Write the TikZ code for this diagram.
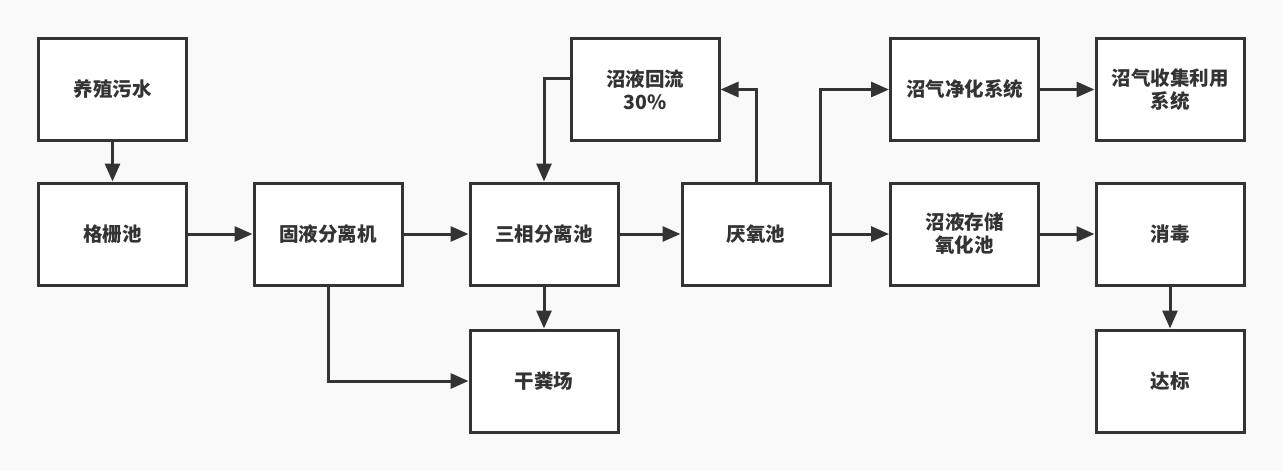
\documentclass[tikz,border=0pt]{standalone}
\usepackage{fontspec}
\setmainfont{Noto Sans CJK SC}
\usetikzlibrary{arrows.meta,positioning}
\definecolor{ink}{HTML}{333333}
\definecolor{paper}{HTML}{F9F9F9}
\begin{document}
\begin{tikzpicture}[x=1pt,y=-1pt,
	box/.style={draw=ink, line width=3pt, fill=white, minimum width=148pt, minimum height=102pt, align=center, font=\fontsize{19.5}{23}\selectfont\bfseries, text=ink},
	flow/.style={draw=ink, line width=3pt, -{Triangle[length=18pt,width=15pt]}}]
	\fill[paper] (0,0) rectangle (1282,471);
	\node[box] (feed) at (112.5,89.5) {养殖污水};
	\node[box] (screen) at (112.5,234) {格栅池};
	\node[box] (sep) at (328,234) {固液分离机};
	\node[box] (tri) at (544,234) {三相分离池};
	\node[box] (dry) at (544,381) {干粪场};
	\node[box] (back) at (645,89.5) {沼液回流\\30\%};
	\node[box] (anaer) at (756,234) {厌氧池};
	\node[box] (purify) at (964.5,89.5) {沼气净化系统};
	\node[box] (use) at (1170,89.5) {沼气收集利用\\系统};
	\node[box] (store) at (964.5,234) {沼液存储\\氧化池};
	\node[box] (disinf) at (1170,234) {消毒};
	\node[box] (ok) at (1170,381) {达标};
	\draw[flow] (feed) -- (screen);
	\draw[flow] (screen) -- (sep);
	\draw[flow] (sep) -- (tri);
	\draw[flow] (tri) -- (anaer);
	\draw[flow] (anaer) -- (store);
	\draw[flow] (store) -- (disinf);
	\draw[flow] (disinf) -- (ok);
	\draw[flow] (purify) -- (use);
	\draw[flow] (tri) -- (dry);
	\draw[flow] (sep.south) |- (dry.west);
	\draw[flow] ([yshift=11.5pt]back.west) -| (tri.north);
	\draw[flow] (anaer.north) |- (back.east);
	\draw[flow] ([xshift=64pt]anaer.north) |- (purify.west);
\end{tikzpicture}
\end{document}
